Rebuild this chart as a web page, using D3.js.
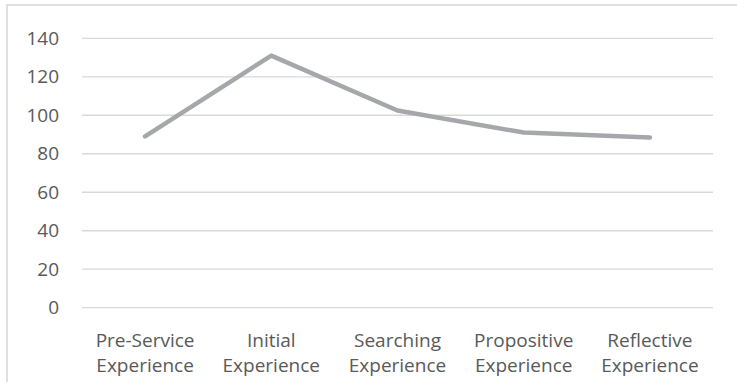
<!DOCTYPE html>
<html>
<head>
<meta charset="utf-8">
<script src="https://cdn.jsdelivr.net/npm/d3@7"></script>
<style>
  html, body { margin: 0; padding: 0; background: #fff; }
  svg { display: block; }
  text { font-family: "Open Sans", "Noto Sans", sans-serif; fill: #595959; }
</style>
</head>
<body>
<svg id="chart" width="737" height="382"></svg>
<script>
// Stages of experience and their counts
const categories = [
  ["Pre-Service", "Experience"],
  ["Initial", "Experience"],
  ["Searching", "Experience"],
  ["Propositive", "Experience"],
  ["Reflective", "Experience"]
];
const values = [89, 131, 102.5, 91, 88.5];
const yTicks = [0, 20, 40, 60, 80, 100, 120, 140];

const svg = d3.select("#chart");
const W = 737, H = 382;
const margin = { left: 82, right: 24, top: 38.3, bottom: 74.3 };
const fontSize = "19px";

// outer frame
svg.append("rect")
  .attr("x", 7).attr("y", 5)
  .attr("width", W + 10).attr("height", H + 10)
  .attr("fill", "none").attr("stroke", "#d9d9d9").attr("stroke-width", 1.6);

const x = d3.scaleBand()
  .domain(d3.range(categories.length))
  .range([margin.left, W - margin.right])
  .padding(0);

const y = d3.scaleLinear()
  .domain([0, 140])
  .range([H - margin.bottom, margin.top]);

// horizontal gridlines
svg.append("g")
  .selectAll("line")
  .data(yTicks)
  .join("line")
  .attr("x1", margin.left).attr("x2", W - margin.right)
  .attr("y1", d => y(d)).attr("y2", d => y(d))
  .attr("stroke", "#d9d9d9").attr("stroke-width", 1.3);

// y axis labels
const yAxis = d3.axisLeft(y).tickValues(yTicks).tickSize(0).tickPadding(0);
svg.append("g")
  .attr("transform", `translate(${margin.left - 23},0)`)
  .call(yAxis)
  .call(g => g.select(".domain").remove())
  .call(g => g.selectAll("text")
    .attr("font-size", fontSize)
    .attr("fill", "#595959")
    .attr("font-family", "'Open Sans', sans-serif"));

// category labels (two lines)
const xl = svg.append("g");
categories.forEach((c, i) => {
  const cx = x(i) + x.bandwidth() / 2;
  const t = xl.append("text")
    .attr("text-anchor", "middle")
    .attr("font-size", fontSize)
    .attr("x", cx)
    .attr("y", 347);
  t.append("tspan").attr("x", cx).attr("dy", 0).text(c[0]);
  t.append("tspan").attr("x", cx).attr("dy", 25).text(c[1]);
});

// the line
const line = d3.line()
  .x((d, i) => x(i) + x.bandwidth() / 2)
  .y(d => y(d));

svg.append("path")
  .datum(values)
  .attr("d", line)
  .attr("fill", "none")
  .attr("stroke", "#a5a7aa")
  .attr("stroke-width", 4.5)
  .attr("stroke-linecap", "round")
  .attr("stroke-linejoin", "round");
</script>
</body>
</html>
